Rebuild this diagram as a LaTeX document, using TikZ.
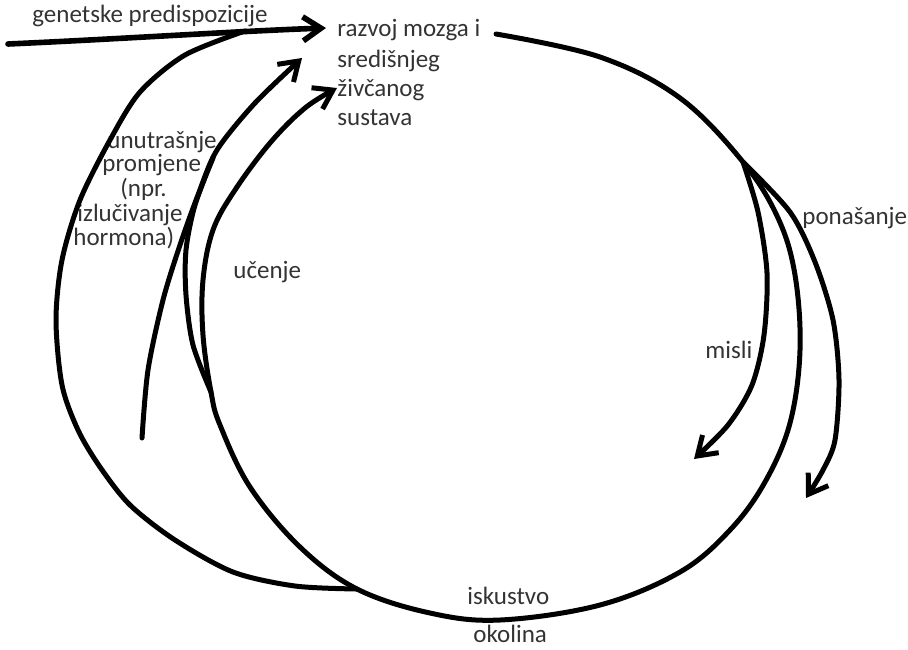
\documentclass[tikz,border=0pt]{standalone}
\usepackage{fontspec}
\setmainfont{Carlito}
\usetikzlibrary{arrows.meta}

\tikzset{
  stroke/.style={line width=2.5pt, line cap=round, line join=round},
  barb/.style={stroke, -{Straight Barb[length=9pt,width=12pt]}},
  lbl/.style={anchor=base west, inner sep=0pt, text=black!80, font=\fontsize{12.5}{14.5}\selectfont},
}

\begin{document}
\begin{tikzpicture}[x=0.5pt, y=-0.5pt]
  \useasboundingbox (0,0) rectangle (908,649);
  % labels
  \node[lbl] (gen) at (32,22) {genetske predispozicije};
  \foreach \t/\yb [count=\i] in {{razvoj mozga i}/36, {središnjeg}/67, {živčanog}/96, {sustava}/125}
    \node[lbl] (brain-\i) at (337,\yb) {\t};
  \foreach \t/\xa/\yb [count=\i] in {{unutrašnje}/107/148, {promjene}/102/171, {(npr.}/120/196,
      {izlučivanje}/77/221, {hormona)}/73/245}
    \node[lbl] (inner-\i) at (\xa,\yb) {\t};
  \node[lbl] (learn) at (233,278) {učenje};
  \node[lbl] (behav) at (802,224) {ponašanje};
  \node[lbl] (thought) at (705,358) {misli};
  \node[lbl] (exper) at (467,604) {iskustvo};
  \node[lbl] (env) at (473,642) {okolina};

  \coordinate (gen-start) at (8,44);
  \coordinate (gen-tip) at (326,28);
  \coordinate (cyc-start) at (496,34);
  \coordinate (split-r) at (743,162);
  \coordinate (split-l) at (211,392);
  \coordinate (join-b) at (357,589);
  \coordinate (inner-start) at (142,438);

  % genetic input and the wide arc from the bottom
  \draw[barb, line width=2.8pt] (gen-start) .. controls (120,39) and (240,31) .. (gen-tip);
  \draw[stroke] plot[smooth] coordinates {(245,31) (185,55) (140,92) (110,140) (80,200)
      (62,260) (56,320) (62,385) (78,430) (100,467) (130,505) (175,540) (233,572) (295,586) (join-b)};

  % internal changes
  \draw[barb] plot[smooth] coordinates {(inner-start) (148,370) (163,300) (180,245) (198,195)
      (217,150) (255,103) (302,58)};
  \draw[stroke] plot[smooth] coordinates {(split-l) (193,345) (186,295) (186,250) (195,205) (213,158)};

  % main cycle: brain -> right -> bottom -> left -> learning
  \draw[barb] plot[smooth, tension=0.6] coordinates {(cyc-start) (600,57) (680,98) (split-r)
      (778,218) (795,275) (800,350) (790,423) (765,482) (730,530) (680,572) (600,605) (500,620)
      (430,613) (join-b) (300,547) (250,487) (220,425) (split-l) (203,335) (203,280) (213,230)
      (235,190) (270,143) (305,108) (337,88)};

  % thoughts and behaviour
  \draw[barb] plot[smooth] coordinates {(split-r) (758,212) (767,273) (764,335) (752,385)
      (728,425) (694,459)};
  \draw[barb] plot[smooth] coordinates {(split-r) (790,212) (815,262) (833,320) (839,380)
      (835,440) (823,470) (806,498)};
\end{tikzpicture}
\end{document}
